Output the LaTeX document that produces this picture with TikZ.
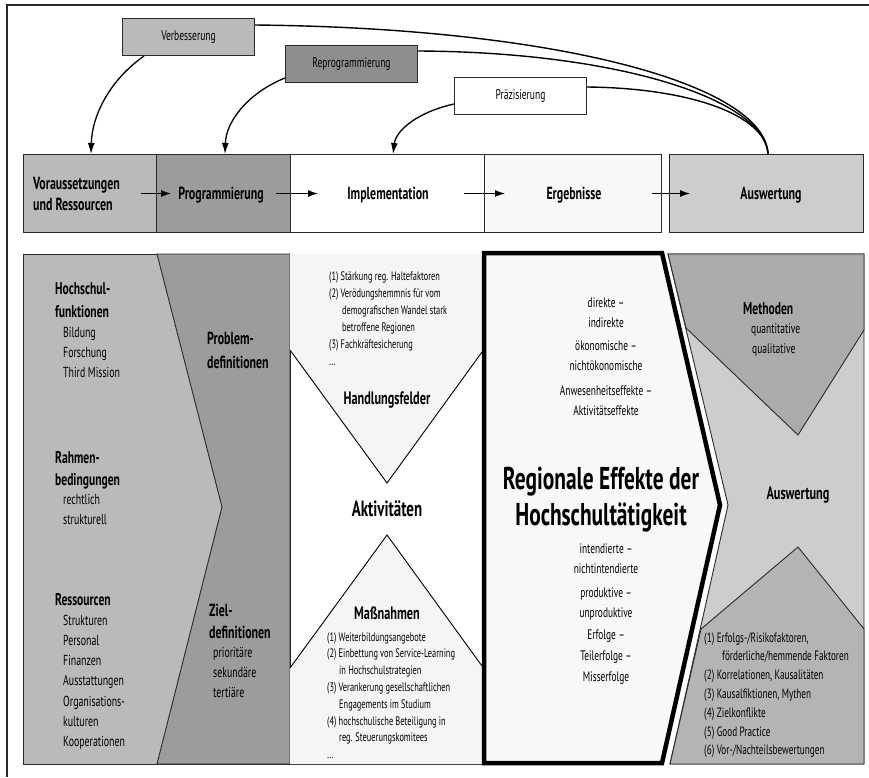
\documentclass[tikz,border=0pt]{standalone}
\usepackage{fontspec}
\setmainfont{PT Sans}[FakeStretch=0.68]
\usetikzlibrary{arrows.meta}
\definecolor{gA}{HTML}{BABABA}
\definecolor{gB}{HTML}{9C9C9C}
\definecolor{gC}{HTML}{8E8E8E}
\definecolor{gD}{HTML}{CDCDCD}
\definecolor{gE}{HTML}{ABABAB}
\definecolor{gF}{HTML}{B4B4B4}
\definecolor{wA}{HTML}{F8F8F8}
\definecolor{wB}{HTML}{F5F5F5}
\definecolor{ln}{HTML}{2A2A2A}
\begin{document}
\begin{tikzpicture}[x=1pt,y=-1pt,
  every node/.style={inner sep=0pt},
  frame/.style={draw=ln, line width=1.2pt},
  panel/.style={draw=ln, line width=0.9pt},
  thinl/.style={draw=black, line width=0.9pt},
  tbox/.style={draw=ln, line width=1pt, minimum height=78pt, anchor=north west},
  fbox/.style={draw=ln, line width=1pt, minimum width=132pt, minimum height=37pt, anchor=north west,
               font=\fontsize{14}{16}\selectfont},
  thd/.style={font=\bfseries\fontsize{17.5}{20}\selectfont},
  hd/.style={font=\bfseries\fontsize{17}{19}\selectfont, anchor=base west},
  it/.style={font=\fontsize{14.5}{17}\selectfont, anchor=base west},
  sm/.style={font=\fontsize{12.3}{14}\selectfont, anchor=base west},
  smr/.style={font=\fontsize{13.5}{15}\selectfont, anchor=base west},
  eff/.style={font=\fontsize{13.8}{16}\selectfont, anchor=base},
  mhd/.style={font=\bfseries\fontsize{18}{21}\selectfont, anchor=base},
  big/.style={font=\bfseries\fontsize{31.5}{35}\selectfont, anchor=base},
  arr/.style={draw=black, line width=1.3pt, -{Latex[length=10pt,width=7pt]}},
  curve/.style={draw=black, line width=1.4pt},
  carr/.style={draw=black, line width=1.3pt, -{Latex[length=11pt,width=7pt]}}]
\useasboundingbox (0,0) rectangle (869,777);
\fill[white] (0,0) rectangle (869,777);
\draw[frame] (7,777) -- (7,5) -- (869,5);

% ---------- bottom panels ----------
\filldraw[panel, fill=gA] (23,254) rectangle (290,764);
\filldraw[panel, fill=gB] (157,254) -- (290,254) -- (290,764) -- (157,764) -- (222,507) -- cycle;
\filldraw[panel, fill=white] (290,254) rectangle (484,764);
\fill[wB] (290,254) -- (482,254) -- (482,352) -- (387,483) -- (290,350) -- cycle;
\draw[thinl] (290,350) -- (387,483) -- (482,352);
\fill[wB] (290,764) -- (290,668) -- (387,535) -- (482,666) -- (482,764) -- cycle;
\draw[thinl] (290,668) -- (387,535) -- (482,666);
\filldraw[panel, fill=gD] (668,254) -- (864,254) -- (864,764) -- (670,764) -- (728,505) -- cycle;
\filldraw[panel, fill=gE] (668,254) -- (864,254) -- (864,330) -- (798,435) -- (686,328) -- cycle;
\filldraw[panel, fill=gF] (670,764) -- (864,764) -- (864,629) -- (798,547) -- (701,629) -- cycle;
\filldraw[draw=black, line width=4.5pt, line join=miter, fill=wA] (484,253) -- (662,253) -- (720,505) -- (662,763) -- (484,763) -- cycle;

% ---------- top row ----------
\node[tbox, fill=gA, minimum width=133pt] (vor) at (23,154) {};
\node[tbox, fill=gB, minimum width=134pt] (prog) at (156,154) {};
\node[tbox, fill=white, minimum width=194pt] (impl) at (290,154) {};
\node[tbox, fill=wA, minimum width=177pt] (erg) at (484,154) {};
\node[tbox, fill=gD, minimum width=194pt] (ausw) at (669,154) {};

\node[thd, anchor=base west] (vort1) at (33,189) {Voraussetzungen};
\node[thd, anchor=base west] (vort2) at (33,210) {und Ressourcen};
\node[thd, anchor=base] (progt) at (221,199) {Programmierung};
\node[thd, anchor=base] (implt) at (388,199) {Implementation};
\node[thd, anchor=base] (ergt) at (574,199) {Ergebnisse};
\node[thd, anchor=base] (auswt) at (771,199) {Auswertung};

\draw[arr] ([xshift=-16pt]vor.east) -- ([xshift=15pt]prog.west);
\draw[arr] ([xshift=-15pt]prog.east) -- ([xshift=28pt]impl.west);
\draw[arr] ([xshift=-21pt]impl.east) -- ([xshift=21pt]erg.west);
\draw[arr] ([xshift=-10pt]erg.east) -- ([xshift=21pt]ausw.west);

% ---------- feedback boxes ----------
\node[fbox, fill=gA] (verb) at (122,18) {Verbesserung};
\node[fbox, fill=gC] (repro) at (285,45) {Reprogrammierung};
\node[fbox, fill=white] (praez) at (454,77) {Präzisierung};

\draw[curve] ([yshift=-7pt]verb.north east) .. controls (560,28) and (765,85) .. ([xshift=99pt]ausw.north west);
\draw[curve] ([yshift=-6pt]repro.north east) .. controls (620,52) and (765,100) .. ([xshift=99pt]ausw.north west);
\draw[curve] ([yshift=-10pt]praez.north east) .. controls (690,88) and (766,115) .. ([xshift=99pt]ausw.north west);

\draw[carr] ([xshift=22pt]verb.south west) .. controls (110,80) and (92,115) .. ([xshift=68pt]vor.north west);
\draw[carr] ([yshift=5pt]repro.south west) .. controls (250,92) and (226,120) .. ([xshift=69pt]prog.north west);
\draw[carr] ([yshift=11pt]praez.south west) .. controls (418,112) and (396,130) .. ([xshift=103pt]impl.north west);

% ---------- left column ----------
\node[hd] (hs1) at (55,294) {Hochschul-};
\node[hd] (hs2) at (55,317) {funktionen};
\foreach \t [count=\i from 0] in {Bildung,Forschung,Third Mission}
  \node[it] (hsi\i) at (63,337+20*\i) {\t};
\node[hd] (rb1) at (55,463) {Rahmen-};
\node[hd] (rb2) at (55,485) {bedingungen};
\foreach \t [count=\i from 0] in {rechtlich,strukturell}
  \node[it] (rbi\i) at (63,504+20*\i) {\t};
\node[hd] (rs1) at (55,605) {Ressourcen};
\foreach \t [count=\i from 0] in {Strukturen,Personal,Finanzen,Ausstattungen,Organisations-,kulturen,Kooperationen}
  \node[it] (rsi\i) at (63,625+20.3*\i) {\t};

\node[hd, font=\bfseries\fontsize{17.5}{20}\selectfont] (pd1) at (207,344) {Problem-};
\node[hd, font=\bfseries\fontsize{17.5}{20}\selectfont] (pd2) at (207,368) {definitionen};
\node[hd, font=\bfseries\fontsize{17.5}{20}\selectfont] (zd1) at (209,616) {Ziel-};
\node[hd, font=\bfseries\fontsize{17.5}{20}\selectfont] (zd2) at (209,638) {definitionen};
\foreach \t [count=\i from 0] in {prioritäre,sekundäre,tertiäre}
  \node[it] (zdi\i) at (213,657+20*\i) {\t};

% ---------- implementation ----------
\foreach \x/\t [count=\i from 0] in {329/{(1) Stärkung reg. Haltefaktoren},329/{(2) Verödungshemmnis für vom},342/{demografischen Wandel stark},342/{betroffene Regionen},329/{(3) Fachkräftesicherung},329/{\dots}}
  \node[sm] (hf\i) at (\x,280+17*\i) {\t};
\node[mhd] (hft) at (387,404) {Handlungsfelder};
\node[big, font=\bfseries\fontsize{22}{25}\selectfont] (akt) at (387,516) {Aktivitäten};
\node[mhd] (mnt) at (387,619) {Maßnahmen};
\foreach \x/\t [count=\i from 0] in {327/{(1) Weiterbildungsangebote},327/{(2) Einbettung von Service-Learning},339/{in Hochschulstrategien},327/{(3) Verankerung gesellschaftlichen},339/{Engagements im Studium},327/{(4) hochschulische Beteiligung in},339/{reg. Steuerungskomitees},327/{\dots}}
  \node[sm] (mn\i) at (\x,641+16.8*\i) {\t};

% ---------- regionale effekte ----------
\foreach \t/\y [count=\i from 0] in {{direkte –}/307,{indirekte}/327,{ökonomische –}/350,{nichtökonomische}/370,{Anwesenheitseffekte –}/395,{Aktivitätseffekte}/415,{intendierte –}/553,{nichtintendierte}/573,{produktive –}/597,{unproduktive}/617,{Erfolge –}/639,{Teilerfolge –}/660,{Misserfolge}/681}
  \node[eff] (ef\i) at (606,\y) {\t};
\node[big] (reg1) at (601,489) {Regionale Effekte der};
\node[big] (reg2) at (601,525) {Hochschultätigkeit};

% ---------- auswertung ----------
\node[hd] (meth) at (743,314) {Methoden};
\node[it, font=\fontsize{14}{16}\selectfont] (mq1) at (751,333) {quantitative};
\node[it, font=\fontsize{14}{16}\selectfont] (mq2) at (752,353) {qualitative};
\node[mhd] (awt) at (798,499) {Auswertung};
\foreach \x/\t [count=\i from 0] in {704/{(1) Erfolgs-/Risikofaktoren,},722/{förderliche/hemmende Faktoren},704/{(2) Korrelationen, Kausalitäten},704/{(3) Kausalfiktionen, Mythen},704/{(4) Zielkonflikte},704/{(5) Good Practice},704/{(6) Vor-/Nachteilsbewertungen}}
  \node[smr] (aw\i) at (\x,642+18.8*\i) {\t};
\end{tikzpicture}
\end{document}
